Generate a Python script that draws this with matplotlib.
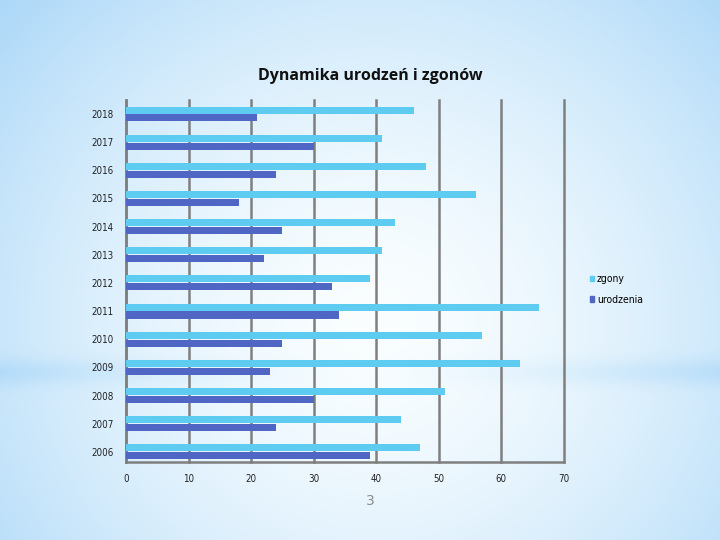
import numpy as np
import matplotlib.pyplot as plt
from matplotlib.patches import Patch

years = ["2006", "2007", "2008", "2009", "2010", "2011", "2012",
         "2013", "2014", "2015", "2016", "2017", "2018"]
zgony = [47, 44, 51, 63, 57, 66, 39, 41, 43, 56, 48, 41, 46]
urodzenia = [39, 24, 30, 23, 25, 34, 33, 22, 25, 18, 24, 30, 21]

c_zgony = "#5ecbf0"
c_urodz = "#4f66c4"
narrow = {"family": "DejaVu Sans", "stretch": "condensed"}

fig = plt.figure(figsize=(7.2, 5.4), dpi=100)

# slide background: light blue edges, whiter in the middle
bg = fig.add_axes([0, 0, 1, 1])
yy, xx = np.mgrid[0:1:270j, 0:1:360j]
r = np.sqrt(((xx - 0.52) / 0.75) ** 2 + ((yy - 0.6) / 0.95) ** 2)
t = np.clip(r, 0, 1) ** 1.6
band = np.exp(-((yy - 0.69) / 0.025) ** 2) * 0.25 * np.abs(xx - 0.5) * 2
t = np.clip(t + band, 0, 1)
white = np.array([0.98, 0.995, 1.0])
blue = np.array([0.64, 0.83, 0.97])
img = white + (blue - white) * t[..., None]
bg.imshow(img, aspect="auto", extent=[0, 1, 0, 1], origin="upper")
bg.axis("off")

ax = fig.add_axes([0.175, 0.145, 0.608, 0.67])
ax.patch.set_alpha(0)

y = np.arange(len(years))
h = 0.25
ax.barh(y + 0.14, zgony, height=h, color=c_zgony, zorder=3, label="zgony")
ax.barh(y - 0.14, urodzenia, height=h, color=c_urodz, zorder=3, label="urodzenia")

ax.set_xlim(0, 70)
ax.set_ylim(-0.35, 12.5)
ax.set_xticks(range(0, 71, 10))
ax.set_yticks(y)
ax.set_yticklabels(years)
ax.tick_params(length=0, labelsize=7, colors="#222222", pad=9)
for lab in ax.get_xticklabels() + ax.get_yticklabels():
    lab.set_fontstretch("condensed")
ax.xaxis.grid(True, color="#7f7f7f", linewidth=1.8, zorder=1)
for gl in ax.get_xgridlines():
    gl.set_clip_on(False)
ax.set_axisbelow(True)
for side in ["top", "right"]:
    ax.spines[side].set_visible(False)
for side in ["left", "bottom"]:
    ax.spines[side].set_color("#7f7f7f")
    ax.spines[side].set_linewidth(1.8)

fig.text(0.514, 0.86, "Dynamika urodzeń i zgonów", ha="center", va="center",
         fontsize=11.5, fontweight="bold", family="Open Sans", color="#111111")

handles = [Patch(color=c_zgony, label="zgony"), Patch(color=c_urodz, label="urodzenia")]
leg = fig.legend(handles=handles, loc="center left", bbox_to_anchor=(0.806, 0.464),
                 frameon=False, handlelength=0.45, handleheight=0.45, handletextpad=0.25,
                 labelspacing=1.0, prop={"size": 7.5, "stretch": "condensed"})

fig.text(0.514, 0.073, "3", ha="center", va="center", fontsize=10, color="#8c8c8c")

fig.savefig("out.png", dpi=100)
